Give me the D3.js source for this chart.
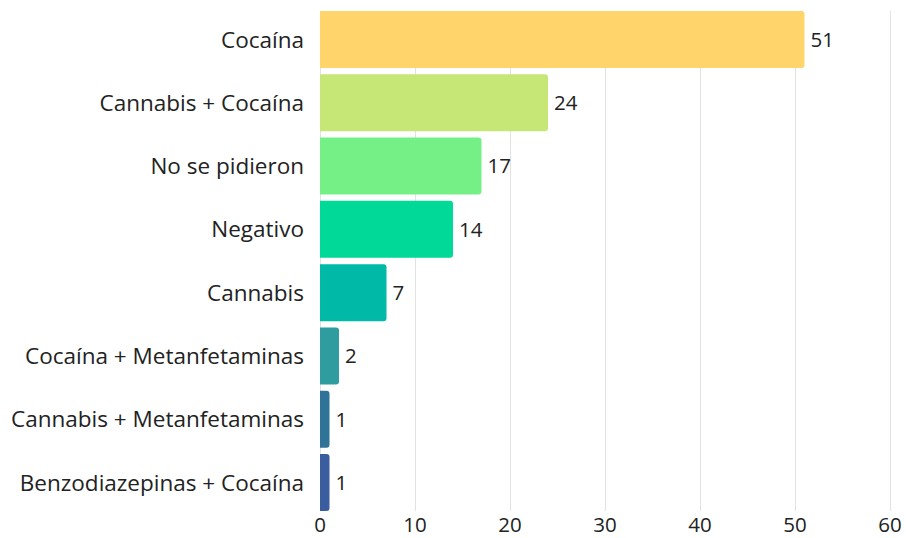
<!DOCTYPE html>
<html><head><meta charset="utf-8">
<script src="https://cdn.jsdelivr.net/npm/d3@7"></script>
<style>body{margin:0;background:#fff}svg{display:block}</style>
</head><body>
<svg id="c" width="906" height="538"></svg>
<script>
const categories = ["Cocaína","Cannabis + Cocaína","No se pidieron","Negativo","Cannabis","Cocaína + Metanfetaminas","Cannabis + Metanfetaminas","Benzodiazepinas + Cocaína"];
const values = [51,24,17,14,7,2,1,1];
const colors = ["#FFD46B","#C6E775","#75F087","#00D997","#00BAA7","#2F9D9F","#2F7398","#3A5DA0"];
const xTicks = [0,10,20,30,40,50,60];

(function(){
const svg = d3.select("#c");
const font = "'Open Sans', sans-serif";
const mLeft = 320, mRight = 890, mTop = 11, mBottom = 511;
const x = d3.scaleLinear().domain([0,60]).range([mLeft,mRight]);
const y = d3.scaleBand().domain(categories).range([mTop,mBottom]).paddingInner(0.1).paddingOuter(0);

// gridlines
svg.append("g").selectAll("line").data(xTicks).join("line")
  .attr("x1",d=>x(d)+0.5).attr("x2",d=>x(d)+0.5)
  .attr("y1",mTop).attr("y2",mBottom)
  .attr("stroke","#e2e2e2").attr("stroke-width",1);

// bars with rounded right corners
const r = 3;
svg.append("g").selectAll("path").data(values).join("path")
  .attr("fill",(d,i)=>colors[i])
  .attr("d",(d,i)=>{
    const x0 = x(0), x1 = x(d), y0 = y(categories[i]), h = y.bandwidth();
    const rr = Math.min(r,(x1-x0));
    return `M${x0},${y0}H${x1-rr}Q${x1},${y0} ${x1},${y0+rr}V${y0+h-rr}Q${x1},${y0+h} ${x1-rr},${y0+h}H${x0}Z`;
  });

// value labels
svg.append("g").selectAll("text").data(values).join("text")
  .attr("x",d=>x(d)+6)
  .attr("y",(d,i)=>y(categories[i])+y.bandwidth()/2)
  .attr("dy","0.36em")
  .attr("font-family",font).attr("font-size",20.5).attr("fill","#222")
  .text(d=>d);

// category labels
svg.append("g").selectAll("text").data(categories).join("text")
  .attr("x",304)
  .attr("y",d=>y(d)+y.bandwidth()/2)
  .attr("dy","0.36em")
  .attr("text-anchor","end")
  .attr("font-family",font).attr("font-size",22.5).attr("fill","#222")
  .text(d=>d);

// x tick labels
svg.append("g").selectAll("text").data(xTicks).join("text")
  .attr("x",d=>x(d))
  .attr("y",532)
  .attr("text-anchor","middle")
  .attr("font-family",font).attr("font-size",20.5).attr("fill","#222")
  .text(d=>d);
})();
</script>
</body></html>
